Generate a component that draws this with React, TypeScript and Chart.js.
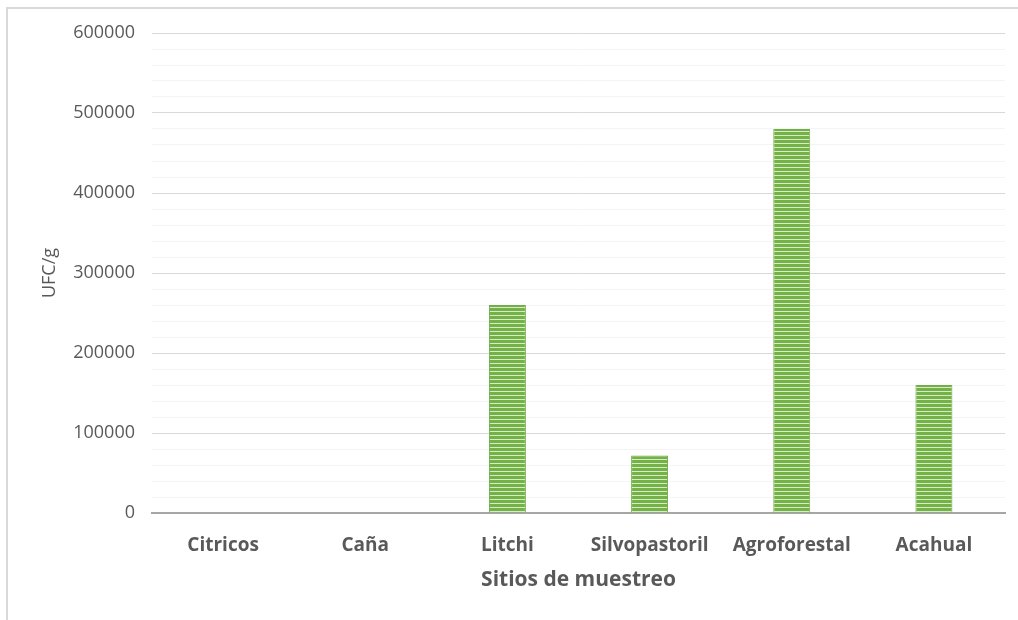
import React, { useEffect, useRef } from "react";
import { Chart, registerables } from "chart.js";

Chart.register(...registerables);

// Sampling sites and colony counts (UFC/g)
const sitios = ["Citricos", "Caña", "Litchi", "Silvopastoril", "Agroforestal", "Acahual"];
const ufc = [0, 0, 260000, 72000, 480000, 160000];

const yMax = 600000;
const yStep = 20000;
const yLabelStep = 100000;

const FONT = "'Open Sans', 'Liberation Sans', sans-serif";
const TEXT = "#595959";

// Horizontal striped fill for the bars
function makeStripes(): CanvasPattern | string {
  const c = document.createElement("canvas");
  c.width = 8;
  c.height = 4;
  const g = c.getContext("2d");
  if (!g) return "#70AD47";
  g.fillStyle = "#d6ecc6";
  g.fillRect(0, 0, 8, 4);
  g.fillStyle = "#74b247";
  g.fillRect(0, 0, 8, 3);
  return g.createPattern(c, "repeat") || "#70AD47";
}

export default function App() {
  const ref = useRef<HTMLCanvasElement | null>(null);

  useEffect(() => {
    if (!ref.current) return;
    const chart = new Chart(ref.current, {
      type: "bar",
      data: {
        labels: sitios,
        datasets: [
          {
            label: "UFC/g",
            data: ufc,
            backgroundColor: makeStripes(),
            borderColor: "#70ad47",
            borderWidth: 1,
            categoryPercentage: 0.26,
            barPercentage: 1,
          },
        ],
      },
      options: {
        animation: false,
        responsive: false,
        layout: { padding: { top: 33, right: 13, bottom: 0, left: 0 } },
        plugins: { legend: { display: false }, tooltip: { enabled: false } },
        scales: {
          x: {
            grid: { display: false, drawTicks: false },
            border: { display: true, color: "#a6a6a6", width: 2 },
            ticks: {
              color: TEXT,
              padding: 21,
              font: { family: FONT, size: 19, weight: "bold" },
            },
            title: {
              display: true,
              text: "Sitios de muestreo",
              color: TEXT,
              font: { family: FONT, size: 21, weight: "bold" },
              padding: { top: 0, bottom: 27 },
            },
            afterFit: (s: any) => {
              s.height = 107;
            },
          },
          y: {
            min: 0,
            max: yMax,
            border: { display: false },
            grid: {
              drawTicks: false,
              color: (ctx: any) =>
                ctx.tick && ctx.tick.value % yLabelStep === 0 ? "#d9d9d9" : "#f4f4f4",
              lineWidth: 1,
            },
            ticks: {
              stepSize: yStep,
              autoSkip: false,
              color: TEXT,
              padding: 17,
              font: { family: FONT, size: 18 },
              callback: (v: any) => (Number(v) % yLabelStep === 0 ? String(v) : ""),
            },
            title: {
              display: true,
              text: "UFC/g",
              color: TEXT,
              font: { family: FONT, size: 18 },
              padding: { top: 39, bottom: 0 },
            },
            afterFit: (s: any) => {
              s.width = 152;
            },
          },
        },
      },
    });
    return () => chart.destroy();
  }, []);

  return (
    <div style={{ position: "fixed", left: 0, top: 0, width: 1018, height: 620, background: "#fff" }}>
      <div
        style={{
          position: "absolute",
          left: 6,
          top: 7,
          width: 1030,
          height: 630,
          borderTop: "2px solid #d9d9d9",
          borderLeft: "2px solid #d9d9d9",
        }}
      />
      <canvas ref={ref} width={1018} height={620} style={{ position: "absolute", left: 0, top: 0 }} />
    </div>
  );
}
